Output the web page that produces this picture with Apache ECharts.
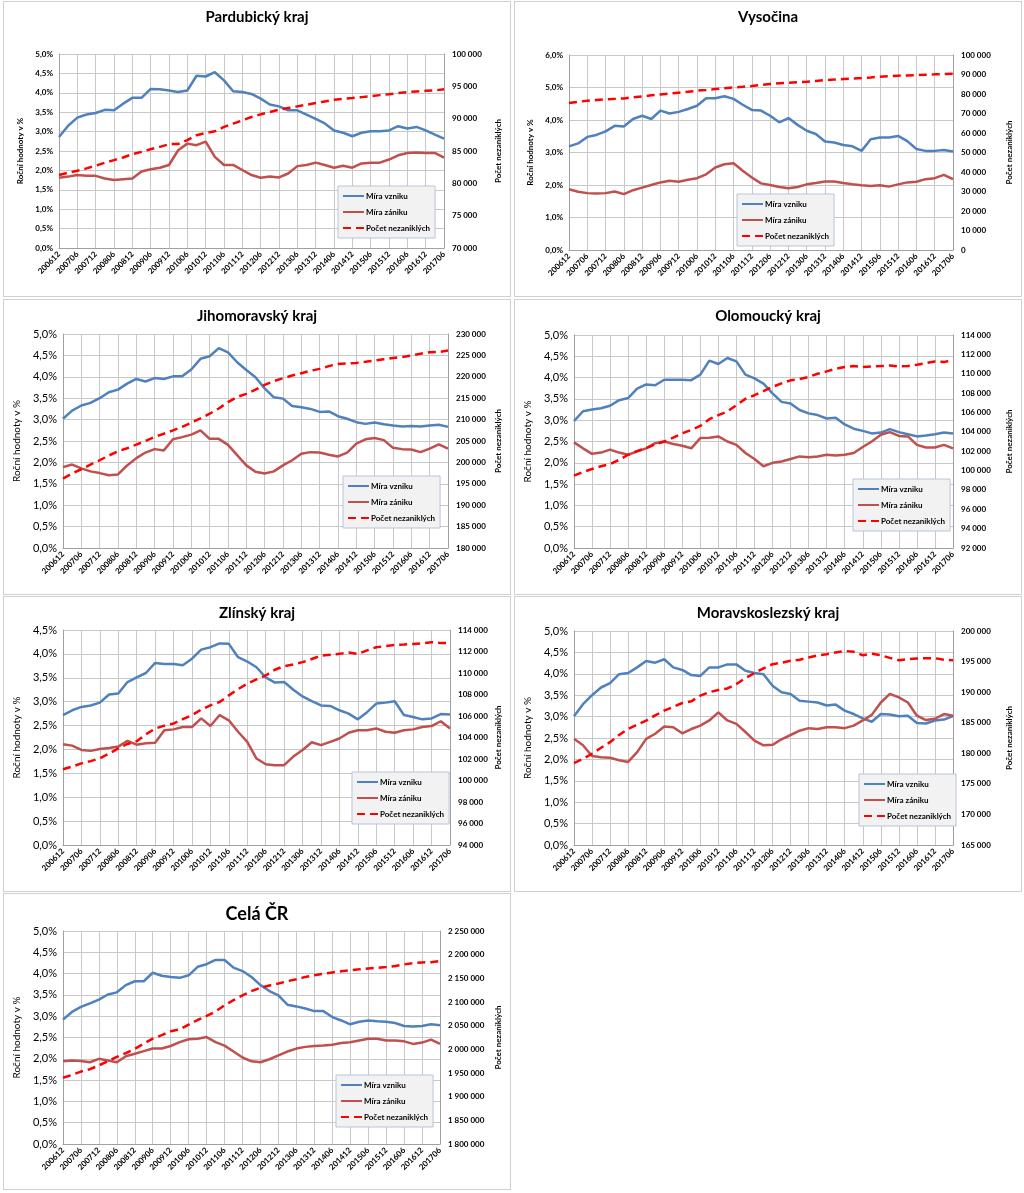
<!DOCTYPE html>
<html><head><meta charset="utf-8">
<script src="https://cdn.jsdelivr.net/npm/echarts@6/dist/echarts.min.js"></script>
<style>
body{margin:0;background:#fff;width:1024px;height:1193px;position:relative;overflow:hidden}
.p{position:absolute;border:1px solid #d0d0d0;box-sizing:border-box;background:#fff}
</style></head><body>
<div id="c0" class="p" style="left:3px;top:1px;width:508px;height:296px"></div>
<div id="c1" class="p" style="left:514px;top:1px;width:508px;height:296px"></div>
<div id="c2" class="p" style="left:3px;top:299px;width:508px;height:296px"></div>
<div id="c3" class="p" style="left:514px;top:299px;width:508px;height:296px"></div>
<div id="c4" class="p" style="left:3px;top:596px;width:508px;height:296px"></div>
<div id="c5" class="p" style="left:514px;top:596px;width:508px;height:296px"></div>
<div id="c6" class="p" style="left:3px;top:893px;width:508px;height:297px"></div>
<script>
const categories = ['200612','200703','200706','200709','200712','200803','200806','200809','200812','200903','200906','200909','200912','201003','201006','201009','201012','201103','201106','201109','201112','201203','201206','201209','201212','201303','201306','201309','201312','201403','201406','201409','201412','201503','201506','201509','201512','201603','201606','201609','201612','201703','201706'];
const seriesNames = ['Míra vzniku','Míra zániku','Počet nezaniklých'];
const titles = ['Pardubický kraj','Vysočina','Jihomoravský kraj','Olomoucký kraj','Zlínský kraj','Moravskoslezský kraj','Celá ČR'];

const pardVznik = [2.86,3.15,3.36,3.44,3.48,3.56,3.55,3.72,3.87,3.87,4.10,4.09,4.06,4.02,4.06,4.44,4.42,4.53,4.32,4.04,4.02,3.97,3.85,3.70,3.65,3.55,3.55,3.44,3.33,3.21,3.03,2.97,2.88,2.97,3.01,3.01,3.03,3.14,3.08,3.12,3.03,2.92,2.82];
const pardZanik = [1.81,1.84,1.88,1.86,1.86,1.79,1.75,1.77,1.79,1.97,2.03,2.07,2.14,2.52,2.69,2.65,2.74,2.35,2.14,2.14,2.01,1.88,1.81,1.84,1.82,1.92,2.11,2.14,2.20,2.14,2.07,2.12,2.07,2.18,2.20,2.20,2.28,2.39,2.45,2.46,2.45,2.45,2.33];
const pardPocet = [81300,81640,81950,82310,82720,83180,83590,84000,84510,84870,85280,85640,86050,86100,86670,87440,87800,88050,88720,89230,89740,90250,90670,91030,91380,91640,91900,92150,92410,92670,92920,93080,93180,93330,93490,93640,93790,93950,94100,94200,94300,94360,94560];

const vysVznik = [3.19,3.28,3.48,3.54,3.65,3.82,3.80,4.03,4.13,4.03,4.29,4.20,4.25,4.34,4.44,4.67,4.67,4.73,4.65,4.47,4.31,4.29,4.13,3.93,4.06,3.85,3.67,3.57,3.34,3.31,3.23,3.19,3.05,3.41,3.46,3.46,3.51,3.35,3.11,3.05,3.05,3.08,3.03];
const vysZanik = [1.87,1.79,1.75,1.74,1.75,1.80,1.72,1.84,1.92,2.00,2.08,2.13,2.10,2.16,2.21,2.33,2.54,2.64,2.67,2.44,2.23,2.05,2.00,1.94,1.90,1.94,2.02,2.06,2.11,2.11,2.06,2.02,1.99,1.97,1.99,1.95,2.02,2.08,2.10,2.18,2.21,2.31,2.18];
const vysPocet = [75340,76000,76540,76900,77230,77500,77740,78300,78770,79300,79790,80200,80650,81100,81680,82100,82530,82900,83390,83700,84080,84600,85100,85500,85790,86050,86300,86700,87160,87400,87670,87950,88180,88500,88870,89150,89380,89550,89730,89900,90070,90250,90410];

const jmkVznik = [3.02,3.21,3.33,3.39,3.50,3.64,3.70,3.84,3.95,3.89,3.97,3.95,4.01,4.01,4.17,4.42,4.48,4.67,4.57,4.34,4.16,3.99,3.73,3.52,3.49,3.32,3.29,3.25,3.18,3.19,3.08,3.02,2.94,2.90,2.93,2.89,2.86,2.84,2.85,2.84,2.86,2.88,2.83];
const jmkZanik = [1.89,1.95,1.86,1.79,1.75,1.70,1.72,1.93,2.10,2.23,2.31,2.28,2.54,2.59,2.65,2.75,2.55,2.55,2.41,2.17,1.93,1.78,1.74,1.79,1.93,2.05,2.20,2.24,2.23,2.18,2.14,2.23,2.44,2.54,2.57,2.52,2.34,2.31,2.30,2.24,2.32,2.42,2.32];
const jmkPocet = [196230,197400,198400,199500,200500,201600,202590,203300,204150,205000,205930,206700,207480,208300,209270,210300,211370,212600,214080,215300,216020,217000,218120,219000,219670,220300,220840,221400,221850,222500,223010,223100,223250,223500,223790,224100,224410,224600,224950,225400,225730,225800,226120];

const olkVznik = [2.98,3.21,3.25,3.28,3.34,3.47,3.52,3.74,3.84,3.82,3.95,3.95,3.95,3.94,4.07,4.40,4.32,4.46,4.38,4.07,3.98,3.86,3.63,3.43,3.39,3.24,3.16,3.12,3.04,3.06,2.90,2.80,2.75,2.69,2.71,2.79,2.72,2.67,2.62,2.64,2.67,2.71,2.69];
const olkZanik = [2.48,2.34,2.21,2.24,2.31,2.24,2.19,2.27,2.34,2.46,2.50,2.44,2.40,2.34,2.58,2.59,2.62,2.50,2.42,2.23,2.09,1.92,2.00,2.03,2.09,2.15,2.13,2.15,2.19,2.17,2.19,2.23,2.37,2.50,2.66,2.72,2.63,2.62,2.42,2.36,2.36,2.42,2.34];
const olkPocet = [99480,99850,100160,100450,100680,101100,101630,102000,102320,102700,103000,103400,103850,104200,104610,105300,105730,106100,106760,107400,107780,108200,108640,109000,109320,109450,109660,110000,110240,110500,110690,110800,110690,110750,110790,110850,110750,110800,110920,111100,111270,111200,111440];

const zlkVznik = [2.72,2.82,2.89,2.92,2.98,3.15,3.17,3.41,3.51,3.60,3.81,3.79,3.79,3.76,3.90,4.09,4.14,4.22,4.21,3.93,3.84,3.72,3.51,3.40,3.41,3.25,3.11,3.01,2.92,2.91,2.82,2.75,2.63,2.78,2.96,2.98,3.01,2.72,2.68,2.63,2.65,2.74,2.73];
const zlkZanik = [2.11,2.08,1.99,1.97,2.01,2.03,2.06,2.18,2.10,2.13,2.14,2.40,2.42,2.47,2.47,2.65,2.49,2.72,2.61,2.37,2.16,1.81,1.69,1.67,1.67,1.85,1.99,2.15,2.09,2.16,2.23,2.35,2.40,2.40,2.44,2.37,2.35,2.40,2.42,2.47,2.49,2.59,2.44];
const zlkPocet = [101040,101300,101590,101800,102060,102500,102980,103400,103660,104300,104830,105100,105300,105700,106070,106600,106990,107300,107920,108500,109000,109400,109770,110300,110640,110800,111010,111300,111620,111700,111780,111900,111780,112100,112400,112500,112610,112650,112700,112750,112860,112800,112770];

const mskVznik = [3.01,3.29,3.50,3.68,3.78,3.99,4.02,4.15,4.30,4.26,4.34,4.15,4.09,3.97,3.95,4.15,4.15,4.22,4.22,4.07,4.02,3.99,3.72,3.57,3.53,3.37,3.35,3.33,3.26,3.28,3.14,3.06,2.96,2.88,3.06,3.05,3.01,3.02,2.85,2.84,2.91,2.93,3.01];
const mskZanik = [2.48,2.33,2.08,2.05,2.04,1.98,1.94,2.17,2.48,2.60,2.77,2.75,2.61,2.71,2.79,2.91,3.10,2.91,2.83,2.64,2.44,2.33,2.34,2.47,2.57,2.67,2.73,2.71,2.75,2.75,2.73,2.79,2.91,3.04,3.33,3.53,3.45,3.33,3.02,2.92,2.95,3.06,3.02];
const mskPocet = [178400,179100,179920,180900,181820,183000,183990,184700,185350,186200,186980,187600,188220,188500,189420,190000,190340,190600,191320,192300,193110,193900,194570,194800,195120,195300,195660,196000,196200,196500,196740,196600,196040,196300,196040,195600,195230,195400,195500,195550,195550,195300,195230];

const crVznik = [2.92,3.10,3.22,3.30,3.39,3.51,3.56,3.73,3.82,3.82,4.02,3.95,3.92,3.90,3.96,4.16,4.22,4.32,4.32,4.14,4.06,3.92,3.73,3.59,3.49,3.27,3.23,3.18,3.12,3.12,2.98,2.90,2.81,2.87,2.90,2.88,2.87,2.84,2.77,2.76,2.77,2.81,2.79];
const crZanik = [1.94,1.96,1.95,1.92,2.00,1.96,1.92,2.06,2.12,2.18,2.24,2.24,2.30,2.39,2.46,2.47,2.51,2.39,2.31,2.17,2.03,1.94,1.92,1.99,2.08,2.17,2.24,2.28,2.30,2.31,2.33,2.37,2.39,2.43,2.47,2.47,2.43,2.43,2.41,2.35,2.38,2.45,2.35];
const crPocet = [1940000,1946000,1953000,1958000,1966000,1975000,1984000,1992000,2001000,2012000,2022500,2030000,2038000,2042000,2052000,2062000,2070500,2080000,2093000,2104000,2114000,2123000,2130000,2135000,2139000,2144000,2148000,2153000,2156700,2159500,2162400,2165000,2167300,2169000,2171000,2172000,2173700,2176000,2179400,2182000,2183600,2184000,2186400];

const leftMax = [5,6,5,5,4.5,5,5];
const leftInterval = [0.5,1,0.5,0.5,0.5,0.5,0.5];
const rightMin = [70000,0,180000,92000,94000,165000,1800000];
const rightMax = [100000,100000,230000,114000,114000,200000,2250000];
const rightInterval = [5000,10000,5000,2000,2000,5000,50000];

const panelData = [
  [pardVznik,pardZanik,pardPocet],
  [vysVznik,vysZanik,vysPocet],
  [jmkVznik,jmkZanik,jmkPocet],
  [olkVznik,olkZanik,olkPocet],
  [zlkVznik,zlkZanik,zlkPocet],
  [mskVznik,mskZanik,mskPocet],
  [crVznik,crZanik,crPocet]
];

// layout (style only)
const layout = [
  {grid:{left:55,right:49,top:52,bottom:48}, leg:{left:334,top:184}, tTop:3, tSize:15, lFs:8, lBold:true, nFs:8, nGapL:34, nGapR:50},
  {grid:{left:54,right:48,top:53,bottom:46}, leg:{left:222,top:192}, tTop:3, tSize:15, lFs:8, lBold:true, nFs:8, nGapL:34, nGapR:52},
  {grid:{left:54,right:58,top:34,bottom:46}, leg:{left:339,top:176}, tTop:4, tSize:15, lFs:11, lBold:false, nFs:10, nGapL:34, nGapR:46},
  {grid:{left:53,right:50,top:35,bottom:46}, leg:{left:338,top:179}, tTop:4, tSize:15, lFs:11, lBold:false, nFs:10, nGapL:34, nGapR:52},
  {grid:{left:53,right:50,top:33,bottom:46}, leg:{left:348,top:175}, tTop:4, tSize:15, lFs:11, lBold:false, nFs:10, nGapL:34, nGapR:44},
  {grid:{left:54,right:49,top:34,bottom:46}, leg:{left:344,top:177}, tTop:4, tSize:15, lFs:11, lBold:false, nFs:10, nGapL:34, nGapR:52},
  {grid:{left:52,right:57,top:37,bottom:45}, leg:{left:332,top:181}, tTop:6, tSize:18, lFs:11, lBold:false, nFs:10, nGapL:34, nGapR:54}
];

const FF = 'Lato, "Open Sans", "DejaVu Sans", sans-serif';
function fmtPct(v){ return v.toFixed(1).replace('.', ',') + '%'; }
function fmtNum(v){ return String(Math.round(v)).replace(/\B(?=(\d{3})+(?!\d))/g, ' '); }

for (let i = 0; i < 7; i++) {
  const L = layout[i];
  const d = panelData[i];
  const chart = echarts.init(document.getElementById('c' + i));
  chart.setOption({
    animation: false,
    backgroundColor: '#fff',
    title: { text: titles[i], left: 'center', top: L.tTop,
      textStyle: { fontFamily: FF, fontSize: L.tSize, fontWeight: 'bold', color: '#000' } },
    grid: L.grid,
    legend: {
      orient: 'vertical', left: L.leg.left, top: L.leg.top,
      data: seriesNames,
      itemWidth: 21, itemHeight: 10, itemGap: 8,
      padding: [6, 5, 6, 4],
      itemStyle: { opacity: 0 },
      backgroundColor: '#f2f2f2', borderColor: '#b9c5da', borderWidth: 1,
      textStyle: { fontFamily: FF, fontSize: 8, fontWeight: 'bold', color: '#000', padding: [0, 0, 0, -3] }
    },
    xAxis: {
      type: 'category', data: categories, boundaryGap: false,
      axisLine: { lineStyle: { color: '#a0a0a0' } },
      axisTick: { show: false },
      axisLabel: { interval: 1, rotate: 45, fontFamily: FF, fontSize: 8, fontWeight: 'bold', color: '#000', margin: 5 },
      splitLine: { show: true, interval: 1, lineStyle: { color: '#c8c8c8', width: 1 } }
    },
    yAxis: [
      { type: 'value', min: 0, max: leftMax[i], interval: leftInterval[i],
        name: 'Roční hodnoty v %', nameLocation: 'middle', nameRotate: 90, nameGap: L.nGapL,
        nameTextStyle: { fontFamily: FF, fontSize: L.nFs, fontWeight: i < 2 ? 'bold' : 'normal', color: '#000' },
        axisLine: { show: true, lineStyle: { color: '#a0a0a0' } },
        axisTick: { show: false },
        axisLabel: { formatter: fmtPct, fontFamily: FF, fontSize: L.lFs, fontWeight: L.lBold ? 'bold' : 'normal', color: '#000', margin: 6 },
        splitLine: { show: true, lineStyle: { color: '#c8c8c8', width: 1 } }
      },
      { type: 'value', position: 'right', min: rightMin[i], max: rightMax[i], interval: rightInterval[i],
        name: 'Počet nezaniklých', nameLocation: 'middle', nameRotate: 90, nameGap: L.nGapR,
        nameMoveOverlap: false,
        nameTextStyle: { fontFamily: FF, fontSize: 8, fontWeight: 'bold', color: '#000' },
        axisLine: { show: true, lineStyle: { color: '#a0a0a0' } },
        axisTick: { show: false },
        axisLabel: { formatter: fmtNum, fontFamily: FF, fontSize: 8, fontWeight: 'bold', color: '#000', margin: 8 },
        splitLine: { show: false }
      }
    ],
    series: [
      { name: seriesNames[0], type: 'line', data: d[0], yAxisIndex: 0, symbol: 'none', smooth: false,
        lineStyle: { color: '#4f81bd', width: 2.5 }, itemStyle: { color: '#4f81bd' } },
      { name: seriesNames[1], type: 'line', data: d[1], yAxisIndex: 0, symbol: 'none',
        lineStyle: { color: '#c0504d', width: 2.5 }, itemStyle: { color: '#c0504d' } },
      { name: seriesNames[2], type: 'line', data: d[2], yAxisIndex: 1, symbol: 'none',
        lineStyle: { color: '#ff0000', width: 2.5, type: [8, 5] }, itemStyle: { color: '#ff0000' } }
    ]
  });
}
</script>
</body></html>
